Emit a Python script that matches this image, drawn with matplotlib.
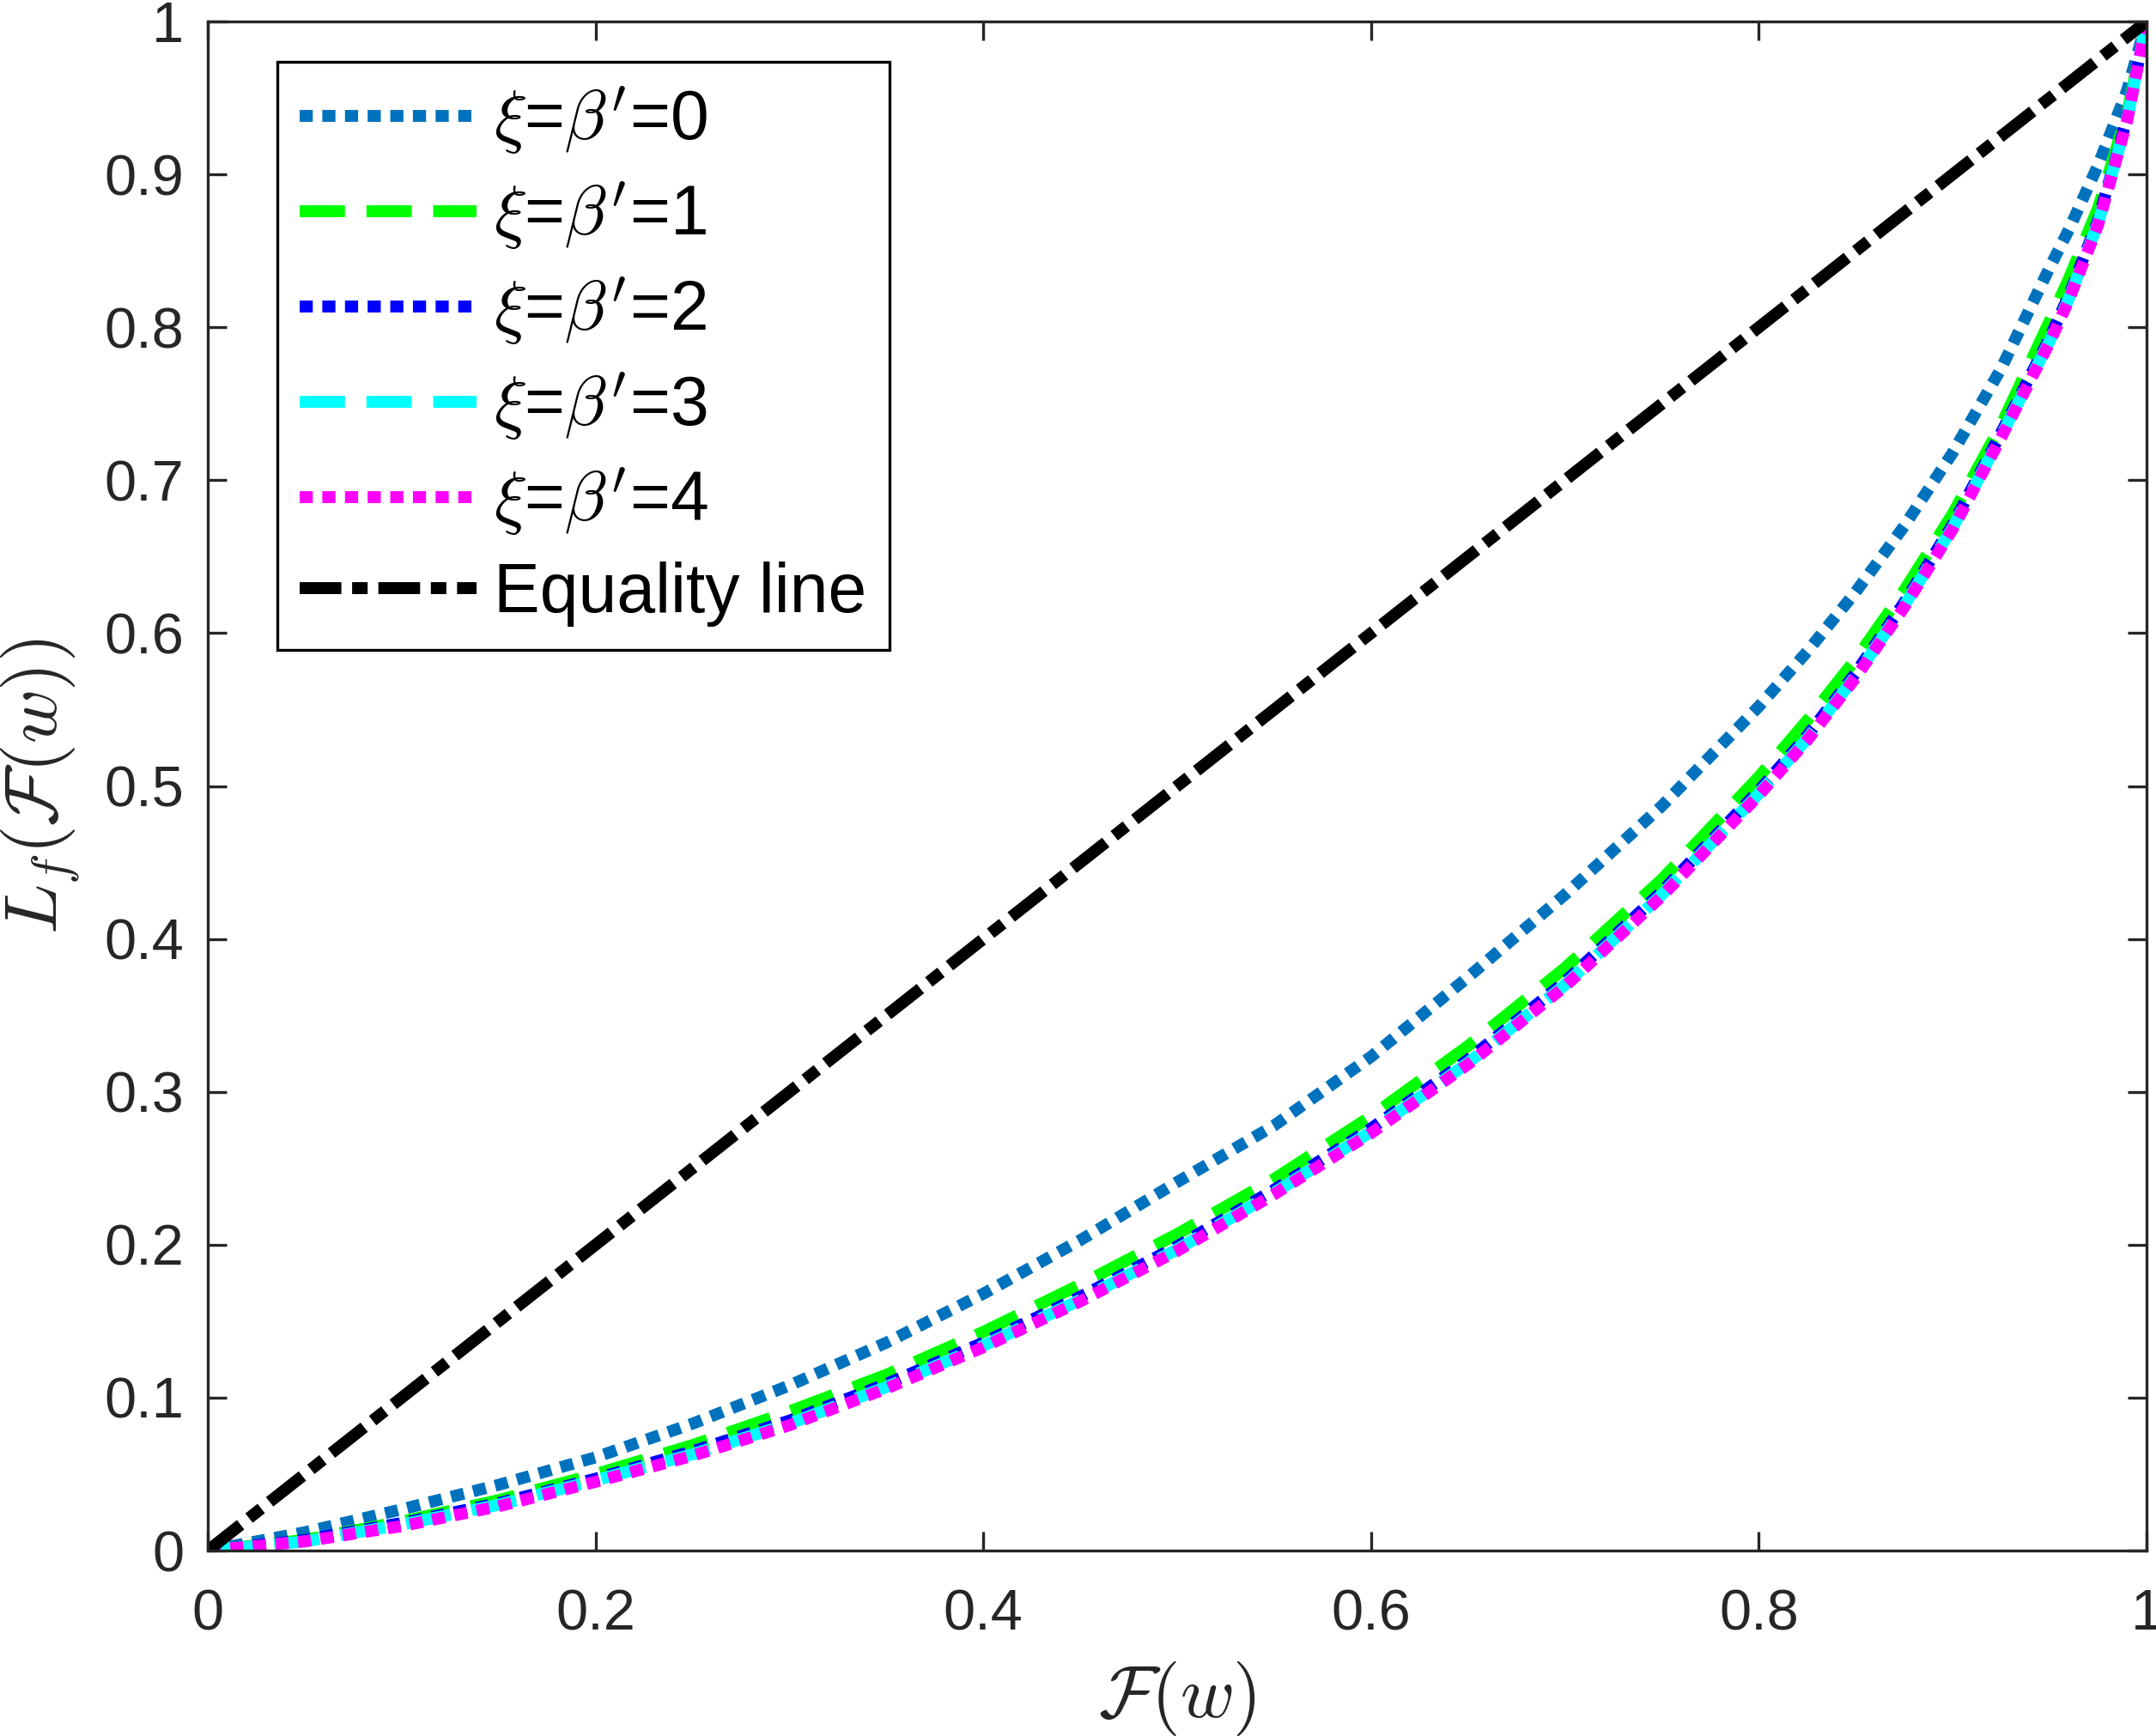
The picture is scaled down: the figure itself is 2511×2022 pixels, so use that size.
import numpy as np
import matplotlib
matplotlib.use("Agg")
import matplotlib.pyplot as plt

plt.rcParams['font.family'] = ['Liberation Sans', 'DejaVu Sans']
plt.rcParams['mathtext.fontset'] = 'cm'

# data
F = [0, 0.05, 0.1, 0.15, 0.2, 0.25, 0.3, 0.35, 0.4, 0.45, 0.5, 0.55,
     0.6, 0.65, 0.7, 0.75, 0.8, 0.825, 0.85, 0.875, 0.9, 0.925, 0.95,
     0.96, 0.975, 0.99, 1.0]
L0 = [0, 0.012, 0.027, 0.043, 0.061, 0.083, 0.108, 0.136, 0.168, 0.203, 0.241, 0.278,
      0.323, 0.375, 0.429, 0.487, 0.552, 0.588, 0.627, 0.670, 0.718, 0.773, 0.839,
      0.864, 0.906, 0.955, 1.0]
L1 = [0, 0.007, 0.019, 0.033, 0.050, 0.069, 0.091, 0.115, 0.143, 0.174, 0.207, 0.243,
      0.284, 0.330, 0.381, 0.439, 0.506, 0.543, 0.583, 0.628, 0.678, 0.736, 0.804,
      0.832, 0.878, 0.940, 1.0]
L2 = [0, 0.007, 0.018, 0.031, 0.047, 0.065, 0.085, 0.109, 0.136, 0.166, 0.199, 0.236,
      0.276, 0.321, 0.372, 0.431, 0.497, 0.533, 0.574, 0.620, 0.671, 0.731, 0.793,
      0.821, 0.870, 0.937, 1.0]
L3 = [0, 0.006, 0.017, 0.030, 0.046, 0.063, 0.083, 0.107, 0.134, 0.164, 0.197, 0.234,
      0.274, 0.319, 0.370, 0.429, 0.495, 0.531, 0.572, 0.618, 0.669, 0.729, 0.791,
      0.819, 0.868, 0.936, 1.0]
L4 = [0, 0.006, 0.016, 0.029, 0.045, 0.062, 0.082, 0.106, 0.133, 0.163, 0.196, 0.233,
      0.273, 0.318, 0.369, 0.428, 0.494, 0.530, 0.571, 0.617, 0.668, 0.728, 0.790,
      0.818, 0.867, 0.935, 1.0]
eq_x = [0, 1]
eq_y = [0, 1]

labels = [r"$\xi$=$\beta'$=0", r"$\xi$=$\beta'$=1", r"$\xi$=$\beta'$=2",
          r"$\xi$=$\beta'$=3", r"$\xi$=$\beta'$=4", "Equality line"]

fig = plt.figure(figsize=(12.555, 10.11), dpi=200)
ax = fig.add_axes([0.0964, 0.1068, 0.8992, 0.8808])

lw = 5
dot = (0, (1.1, 0.8))
dash = (0, (3.8, 1.8))
ax.plot(F, L0, color='#0072BD', lw=lw, ls=dot, label=labels[0])
ax.plot(F, L1, color='#00FF00', lw=lw, ls=dash, label=labels[1])
ax.plot(F, L2, color='#0000FF', lw=lw, ls=dot, label=labels[2])
ax.plot(F, L3, color='#00FFFF', lw=lw, ls=dash, label=labels[3])
ax.plot(F, L4, color='#FF00FF', lw=lw, ls=dot, label=labels[4])
ax.plot(eq_x, eq_y, color='black', lw=lw, ls=(0, (3.5, 0.9, 1.3, 0.9)), label=labels[5])

ax.set_xlim(0, 1)
ax.set_ylim(0, 1)
ax.set_xticks([0, 0.2, 0.4, 0.6, 0.8, 1])
ax.set_xticklabels(['0', '0.2', '0.4', '0.6', '0.8', '1'])
ax.set_yticks(np.arange(0, 1.01, 0.1))
ax.set_yticklabels(['0', '0.1', '0.2', '0.3', '0.4', '0.5', '0.6', '0.7', '0.8', '0.9', '1'])

gray = '#262626'
ax.tick_params(direction='in', length=8, width=1.2, colors=gray, labelsize=24,
               top=True, right=True)
ax.tick_params(axis='x', pad=16)
ax.tick_params(axis='y', pad=10)
for s in ax.spines.values():
    s.set_linewidth(1.2)
    s.set_color(gray)

ax.set_xlabel(r'$\mathcal{F}(w)$', fontsize=31, color=gray, va='center')
ax.xaxis.set_label_coords(0.5, -0.097)
ax.set_ylabel(r'$L_f(\mathcal{F}(w))$', fontsize=31, color=gray, va='center')
ax.yaxis.set_label_coords(-0.0864, 0.5)

leg = ax.legend(loc='upper left', bbox_to_anchor=(0.1286, 0.9644),
                bbox_transform=fig.transFigure, borderaxespad=0, fontsize=29,
                fancybox=False, framealpha=1, edgecolor='black',
                handlelength=2.55, handletextpad=0.25, labelspacing=0.345,
                borderpad=0.33)
leg.get_frame().set_linewidth(1.2)

fig.savefig('out.png', dpi=200)
